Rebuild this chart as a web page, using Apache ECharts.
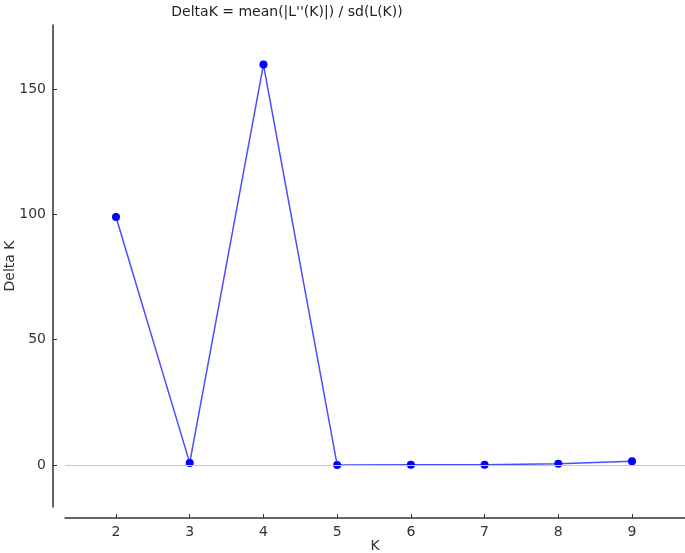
<!DOCTYPE html>
<html>
<head>
<meta charset="utf-8">
<script src="https://cdn.jsdelivr.net/npm/echarts@6/dist/echarts.min.js"></script>
<style>
  html, body { margin: 0; padding: 0; background: #fff; }
  #chart { width: 685px; height: 553px; }
</style>
</head>
<body>
<div id="chart"></div>
<script>
// values
const kValues = [2, 3, 4, 5, 6, 7, 8, 9];
const deltaK = [98.9, 0.8, 159.7, 0.0, 0.1, 0.1, 0.5, 1.5];
const xTicks = [2, 3, 4, 5, 6, 7, 8, 9];
const yTicks = [0, 50, 100, 150];

let fontFamily = "DejaVu Sans";
let textColor = "#333";
let chart = echarts.init(document.getElementById("chart"));

let points = [];
for (let i = 0; i < kValues.length; i++) {
  points.push([kValues[i], deltaK[i]]);
}

let option = {
  animation: false,
  title: {
    text: "DeltaK = mean(|L''(K)|) / sd(L(K))",
    left: 282,
    top: 0,
    textAlign: "center",
    textStyle: {
      fontFamily,
      fontSize: 14,
      fontWeight: "normal",
      color: "#222"
    }
  },
  grid: {
    left: 65,
    right: 0,
    top: 25,
    bottom: 46,
    containLabel: false,
    outerBoundsMode: "none"
  },
  xAxis: {
    type: "value",
    min: 1.308,
    max: 9.719,
    offset: 11,
    name: "K",
    nameLocation: "middle",
    nameGap: 21,
    nameMoveOverlap: false,
    nameTextStyle: { fontFamily, fontSize: 14, color: textColor },
    axisLine: { onZero: false, lineStyle: { color: "#333", width: 1.5 } },
    axisTick: {
      inside: true,
      length: 4,
      customValues: xTicks,
      lineStyle: { color: "#333" }
    },
    axisLabel: {
      customValues: xTicks,
      margin: 7,
      fontFamily,
      fontSize: 14,
      color: textColor
    },
    splitLine: { show: false }
  },
  yAxis: {
    type: "value",
    min: -16.8,
    max: 175.5,
    offset: 12,
    name: "Delta K",
    nameLocation: "middle",
    nameGap: 36,
    nameMoveOverlap: false,
    nameTextStyle: { fontFamily, fontSize: 14, color: textColor },
    axisLine: { show: true, onZero: false, lineStyle: { color: "#333", width: 1.5 } },
    axisTick: {
      show: true,
      inside: true,
      length: 4,
      customValues: yTicks,
      lineStyle: { color: "#333" }
    },
    axisLabel: {
      customValues: yTicks,
      margin: 7,
      fontFamily,
      fontSize: 14,
      color: textColor
    },
    splitLine: { show: false }
  },
  series: [
    {
      type: "line",
      data: points,
      symbol: "circle",
      symbolSize: 8,
      itemStyle: { color: "#0000ff" },
      lineStyle: { color: "rgba(30, 30, 255, 0.8)", width: 1.5 },
      markLine: {
        silent: true,
        symbol: "none",
        label: { show: false },
        lineStyle: { color: "#c8c8c8", type: "solid", width: 1 },
        data: [{ yAxis: 0 }]
      },
      z: 3
    }
  ]
};

chart.setOption(option, true);
window.addEventListener("resize", () => {
  chart.resize();
});
</script>
</body>
</html>
